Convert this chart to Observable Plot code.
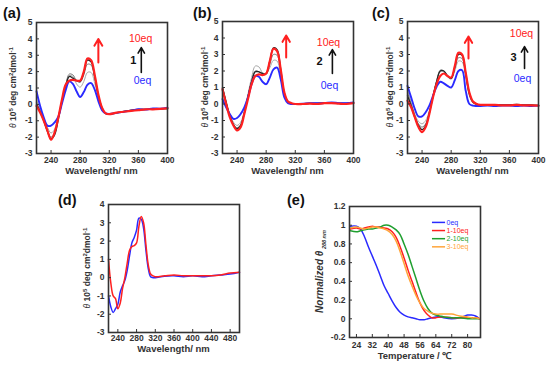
<!DOCTYPE html>
<html>
<head>
<meta charset="utf-8">
<script src="https://cdn.jsdelivr.net/npm/d3@7"></script>
<script src="https://cdn.jsdelivr.net/npm/@observablehq/plot@0.6"></script>
<style>
html, body { margin: 0; padding: 0; background: #fff; overflow: hidden; }
#chart { position: relative; width: 550px; height: 366px; }
#chart svg { position: absolute; left: 0; top: 0; }
</style>
</head>
<body>
<div id="chart"></div>
<script>
// ---------- Panels (a)-(c): CD spectra, wavelength grid (nm) ----------
const wlABC = [220,225,230,235,240,245,250,255,260,265,270,275,280,285,290,295,300,305,310,315,320,330,340,350,360,370,380,390,400];

const a_0eq  = [0.8,-0.1,-0.8,-1.3,-1.3,-1.1,-0.75,0.05,0.85,1.4,1.25,0.8,0.45,0.75,1.2,1.3,0.9,0.2,-0.35,-0.55,-0.58,-0.52,-0.45,-0.38,-0.3,-0.32,-0.25,-0.26,-0.2];
const a_mid1 = [0.3,-0.3,-0.9,-1.4,-1.75,-1.5,-0.7,0.3,1.2,1.75,1.7,1.25,1.05,1.4,1.95,1.95,1.3,0.4,-0.3,-0.55,-0.6,-0.5,-0.42,-0.35,-0.3,-0.3,-0.28,-0.25,-0.25];
const a_mid2 = [0.1,-0.4,-1.0,-1.6,-2.0,-1.75,-0.85,0.2,1.15,1.85,1.8,1.45,1.35,1.8,2.45,2.4,1.6,0.5,-0.25,-0.55,-0.6,-0.5,-0.42,-0.35,-0.3,-0.3,-0.28,-0.28,-0.25];
const a_mid3 = [0.0,-0.45,-1.0,-1.65,-2.1,-1.85,-0.9,0.2,1.1,1.7,1.6,1.45,1.4,1.95,2.7,2.6,1.7,0.55,-0.2,-0.55,-0.6,-0.52,-0.44,-0.36,-0.32,-0.3,-0.3,-0.27,-0.26];
const a_10eq = [-0.1,-0.5,-1.0,-1.6,-2.15,-1.7,-0.8,0.3,1.2,1.45,1.5,1.45,1.45,2.0,2.8,2.7,1.8,0.6,-0.2,-0.55,-0.6,-0.5,-0.45,-0.4,-0.35,-0.3,-0.3,-0.28,-0.25];

const b_0eq  = [0.3,-0.2,-0.6,-0.9,-0.85,-0.6,-0.2,0.4,1.2,1.7,1.65,1.35,1.2,1.6,2.1,2.2,1.5,0.4,0.05,0.0,0.0,0.02,0.05,0.05,0.05,0.1,0.05,0.05,0.1];
const b_mid1 = [1.0,0.2,-0.6,-1.1,-1.3,-1.1,-0.4,0.6,1.6,2.3,2.25,1.9,1.85,2.2,2.65,2.6,1.7,0.45,0.08,0.0,0.0,0.02,0.05,0.05,0.05,0.08,0.05,0.05,0.08];
const b_mid2 = [1.0,0.1,-0.7,-1.2,-1.45,-1.25,-0.5,0.5,1.4,2.0,1.95,1.8,1.8,2.4,3.0,2.95,1.9,0.55,0.1,0.02,0.0,0.02,0.04,0.05,0.06,0.08,0.05,0.04,0.07];
const b_mid3 = [1.0,0.1,-0.7,-1.25,-1.5,-1.3,-0.55,0.45,1.35,1.95,1.95,1.85,1.85,2.6,3.4,3.3,2.1,0.65,0.12,0.03,0.0,0.02,0.04,0.04,0.06,0.07,0.04,0.03,0.06];
const b_10eq = [0.9,0.0,-0.8,-1.3,-1.6,-1.4,-0.6,0.3,1.2,1.7,1.8,1.75,1.85,2.6,3.35,3.2,2.1,0.7,0.15,0.05,0.0,0.0,0.02,0.0,0.05,0.05,0.02,0.0,0.05];

const c_0eq  = [1.1,0.4,-0.3,-0.75,-0.75,-0.5,-0.1,0.5,1.05,1.35,1.25,1.1,1.0,1.45,2.0,2.05,0.8,0.0,-0.1,-0.12,-0.12,-0.1,-0.12,-0.1,-0.1,-0.12,-0.1,-0.12,-0.1];
const c_mid1 = [0.9,0.1,-0.6,-1.05,-1.2,-1.0,-0.4,0.5,1.4,1.95,1.95,1.65,1.5,2.0,2.6,2.55,1.6,0.5,0.05,-0.05,-0.05,-0.05,-0.05,-0.05,-0.05,-0.05,-0.08,-0.08,-0.1];
const c_mid2 = [0.7,0.0,-0.7,-1.2,-1.4,-1.2,-0.5,0.45,1.4,2.05,2.0,1.7,1.55,2.15,2.8,2.75,1.75,0.55,0.1,-0.02,-0.05,-0.05,-0.04,-0.05,-0.06,-0.05,-0.07,-0.08,-0.09];
const c_mid3 = [0.5,-0.1,-0.8,-1.3,-1.55,-1.3,-0.55,0.45,1.35,2.0,2.0,1.7,1.55,2.25,3.0,2.95,1.85,0.65,0.12,0.0,-0.05,-0.05,-0.05,-0.05,-0.05,-0.02,-0.05,-0.05,-0.08];
const c_10eq = [0.2,-0.2,-0.8,-1.4,-1.7,-1.4,-0.6,0.4,1.2,1.7,1.85,1.7,1.6,2.3,3.1,3.0,1.9,0.7,0.15,0.0,-0.05,-0.05,-0.05,-0.08,-0.08,-0.05,-0.08,-0.08,-0.1];

// ---------- Panel (d) ----------
const wlD = [220,225,230,235,240,245,250,255,260,265,270,275,280,285,290,295,300,305,310,315,320,340,360,380,400,420,440,460,480,500];
const d_blue = [-1.0,-1.6,-1.9,-1.7,-1.45,-0.8,-0.45,-0.15,0.4,1.2,1.9,2.2,2.6,3.25,3.2,2.7,1.5,0.5,0.05,0.0,0.0,0.08,0.1,0.05,0.1,0.05,0.1,0.15,0.2,0.3];
const d_red  = [1.0,-0.3,-1.0,-1.15,-1.7,-1.4,-0.6,0.0,0.8,1.5,1.7,1.75,1.9,2.8,3.35,3.0,1.8,0.7,0.2,0.1,0.05,0.1,0.15,0.1,0.1,0.1,0.1,0.15,0.25,0.3];

// ---------- Panel (e): melting curves ----------
const tempE = [21,24,26,28,30,32,34,36,38,40,42,44,46,48,50,52,54,56,58,60,62,64,66,68,72,76,80,82,84,86];
const e_0eq  = [0.99,0.99,0.96,0.88,0.77,0.67,0.57,0.46,0.35,0.27,0.19,0.12,0.07,0.04,0.02,0.01,0.0,-0.01,-0.01,0.0,0.01,0.02,0.02,0.01,0.0,0.01,0.04,0.04,0.03,0.0];
const e_1eq  = [0.96,0.97,0.96,0.97,0.98,0.99,0.98,0.98,0.97,0.96,0.93,0.87,0.77,0.65,0.52,0.4,0.28,0.17,0.09,0.04,0.01,0.01,0.02,0.02,0.01,0.01,0.01,0.01,0.01,0.0];
const e_2eq  = [0.94,0.93,0.94,0.95,0.96,0.96,0.97,0.98,1.0,1.0,0.98,0.95,0.9,0.8,0.69,0.56,0.43,0.3,0.19,0.11,0.06,0.04,0.03,0.02,0.01,0.01,0.0,0.0,0.0,0.0];
const e_3eq  = [0.97,0.98,0.97,0.96,0.97,0.98,0.98,0.97,0.96,0.94,0.9,0.83,0.72,0.59,0.46,0.35,0.25,0.17,0.11,0.08,0.06,0.05,0.05,0.05,0.05,0.03,0.02,0.01,0.01,0.0];
const legendE = ["0eq", "1-10eq", "2-10eq", "3-10eq"];

// ---------- Ticks / labels ----------
const ticksWlABC = [240,280,320,360,400];
const ticksWlD = [240,280,320,360,400,440,480];
const ticksCD_ABC = [-3,-2,-1,0,1,2,3,4,5];
const ticksCD_D = [-3,-2,-1,0,1,2,3,4];
const ticksTemp = [24,32,40,48,56,64,72,80];
const ticksNorm = [-0.2,0,0.2,0.4,0.6,0.8,1,1.2];
const panelNames = ["(a)", "(b)", "(c)", "(d)", "(e)"];
const ligandNames = ["1", "2", "3"];

// ---------- Styling ----------
const FONT = "'Liberation Sans', Arial, Helvetica, sans-serif";
const BLUE = "#2a2aff", RED = "#ff2020", GREEN = "#1f9f2f", ORANGE = "#ffa53a";
const GRAY1 = "#a8a8a8", GRAY2 = "#7a7a7a", BLACK = "#262626", AX = "#333";

const chart = document.getElementById("chart");

function richText(svg, {x, y, rotate = 0, anchor = "middle", size = 9, weight = "bold", fill = AX, parts}) {
  const t = d3.select(svg).append("text")
    .attr("transform", `translate(${x},${y}) rotate(${rotate})`)
    .attr("text-anchor", anchor)
    .attr("fill", fill)
    .style("font-family", FONT)
    .style("font-size", size + "px")
    .style("font-weight", weight);
  let shift = 0;
  for (const p of parts) {
    const s = t.append("tspan").text(p.t);
    const target = p.shift || 0;
    if (target !== shift) { s.attr("dy", target - shift); shift = target; }
    if (p.size) s.style("font-size", p.size + "px");
    if (p.italic) s.style("font-style", "italic");
    if (p.weight) s.style("font-weight", p.weight);
  }
  return t;
}

function panel(cfg) {
  const [L, T, R, B] = cfg.frame;
  const fw = R - L, fh = B - T;
  const marks = [];
  for (const s of cfg.series) {
    marks.push(Plot.line(cfg.x.map((x, i) => ({x, y: s.values[i]})),
      {x: "x", y: "y", stroke: s.color, strokeWidth: s.width, curve: "catmull-rom"}));
  }
  marks.push(Plot.frame({stroke: AX, strokeWidth: 1.6}));
  marks.push(Plot.tickX(cfg.xTicks, {x: d => d, insetTop: fh - 3, stroke: AX, strokeWidth: 1}));
  marks.push(Plot.tickY(cfg.yTicks, {y: d => d, insetRight: fw - 3, stroke: AX, strokeWidth: 1}));
  marks.push(Plot.axisX({ticks: cfg.xTicks, tickSize: 0, tickPadding: cfg.xPad ?? 3, label: null, tickFormat: d => String(d)}));
  marks.push(Plot.axisY({ticks: cfg.yTicks, tickSize: 0, tickPadding: 4, label: null, tickFormat: d => String(d)}));
  marks.push(...(cfg.extra || []));
  const svg = Plot.plot({
    width: 550, height: 366,
    marginLeft: L, marginTop: T, marginRight: 550 - R, marginBottom: 366 - B,
    x: {domain: cfg.xDomain},
    y: {domain: cfg.yDomain},
    style: {fontFamily: FONT, fontSize: "8.5px", fontWeight: "bold", color: AX, background: "transparent", overflow: "visible"},
    marks
  });
  // axis titles
  richText(svg, {x: (L + R) / 2, y: cfg.xLabelY, size: cfg.xLabelSize || 9.5, parts: cfg.xLabel});
  richText(svg, {x: cfg.yLabelX + 3, y: (T + B) / 2, rotate: -90, size: cfg.yLabelSize || 8.5, parts: cfg.yLabel});
  // panel letter
  richText(svg, {x: cfg.letter[0], y: cfg.letter[1], anchor: "start", size: 14.5, weight: "bold", fill: "#111", parts: [{t: cfg.name}]});
  chart.appendChild(svg);
}

const cdLabel = [
  {t: "θ", italic: true, weight: "normal"}, {t: " 10"}, {t: "5", shift: -3.5, size: 6}, {t: " deg cm"},
  {t: "2", shift: -3.5, size: 6}, {t: "dmol"}, {t: "-1", shift: -3.5, size: 6}
];
const wlLabel = [{t: "Wavelength/ nm"}];

function titration(x, s0, s1, s2, s3, s10) {
  return [
    {values: s1, color: GRAY1, width: 1},
    {values: s2, color: GRAY2, width: 1},
    {values: s3, color: BLACK, width: 1.3},
    {values: s0, color: BLUE, width: 1.9},
    {values: s10, color: RED, width: 2.2}
  ];
}

function annotations(ann, ligand) {
  return [
    Plot.arrow([ann.red], {x1: d => d[0], y1: d => d[1], x2: d => d[0], y2: d => d[2], stroke: RED, strokeWidth: 2, headLength: 6}),
    Plot.arrow([ann.black], {x1: d => d[0], y1: d => d[1], x2: d => d[0], y2: d => d[2], stroke: "#111", strokeWidth: 1.6, headLength: 6}),
    Plot.text([ann.top], {x: d => d[0], y: d => d[1], text: () => "10eq", fill: RED, fontSize: 10.5, fontWeight: "normal"}),
    Plot.text([ann.bottom], {x: d => d[0], y: d => d[1], text: () => "0eq", fill: BLUE, fontSize: 10.5, fontWeight: "normal"}),
    Plot.text([ann.num], {x: d => d[0], y: d => d[1], text: () => ligand, fill: "#111", fontSize: 11, fontWeight: "bold"})
  ];
}

// (a)
panel({
  name: panelNames[0], letter: [3, 18], frame: [36, 22, 167, 153],
  x: wlABC, xDomain: [220, 400], yDomain: [-3, 5], xTicks: ticksWlABC, yTicks: ticksCD_ABC,
  series: titration(wlABC, a_0eq, a_mid1, a_mid2, a_mid3, a_10eq),
  xLabel: wlLabel, xLabelY: 174, yLabel: cdLabel, yLabelX: 13,
  extra: annotations({red: [305, 2.55, 4.0], black: [364, 1.95, 3.47], top: [363, 4.02], bottom: [365.6, 1.46], num: [353, 2.68]}, ligandNames[0])
});
// (b)
panel({
  name: panelNames[1], letter: [193, 18], frame: [222, 21, 353, 153],
  x: wlABC, xDomain: [220, 400], yDomain: [-3, 5], xTicks: ticksWlABC, yTicks: ticksCD_ABC,
  series: titration(wlABC, b_0eq, b_mid1, b_mid2, b_mid3, b_10eq),
  xLabel: wlLabel, xLabelY: 174, yLabel: cdLabel, yLabelX: 205,
  extra: annotations({red: [307.5, 2.82, 4.15], black: [371, 1.85, 3.3], top: [365.6, 3.73], bottom: [367, 1.12], num: [353.3, 2.58]}, ligandNames[1])
});
// (c)
panel({
  name: panelNames[2], letter: [372, 18], frame: [407, 21, 538, 153],
  x: wlABC, xDomain: [220, 400], yDomain: [-3, 5], xTicks: ticksWlABC, yTicks: ticksCD_ABC,
  series: titration(wlABC, c_0eq, c_mid1, c_mid2, c_mid3, c_10eq),
  xLabel: wlLabel, xLabelY: 174, yLabel: cdLabel, yLabelX: 390,
  extra: annotations({red: [303.8, 2.76, 4.09], black: [380.8, 2.15, 3.48], top: [376.6, 4.27], bottom: [378, 1.55], num: [365.6, 2.82]}, ligandNames[2])
});
// (d)
panel({
  name: panelNames[3], letter: [58, 205], frame: [108, 204, 239, 332],
  x: wlD, xDomain: [220, 500], yDomain: [-3, 4], xTicks: ticksWlD, yTicks: ticksCD_D, xPad: 2,
  series: [{values: d_blue, color: BLUE, width: 1.5}, {values: d_red, color: RED, width: 1.5}],
  xLabel: wlLabel, xLabelY: 351.5, yLabel: cdLabel, yLabelX: 87
});
// (e)
const eColors = [BLUE, RED, GREEN, ORANGE];
const eSeries = [e_0eq, e_1eq, e_2eq, e_3eq];
const legendRows = legendE.map((label, i) => ({label, color: eColors[i], y: 1.03 - i * 0.087}));
panel({
  name: panelNames[4], letter: [287, 205], frame: [349, 206, 480, 337],
  x: tempE, xDomain: [20.5, 86.5], yDomain: [-0.2, 1.2], xTicks: ticksTemp, yTicks: ticksNorm, xPad: 4,
  series: eSeries.map((v, i) => ({values: v, color: eColors[i], width: 1.5})),
  xLabel: [{t: "Temperature / ℃"}], xLabelY: 359, xLabelSize: 9.5,
  yLabel: [{t: "Normalized θ", italic: true}, {t: " 288 nm", shift: 3, size: 5.5, italic: true}], yLabelX: 320, yLabelSize: 10,
  extra: legendRows.flatMap(r => [
    Plot.ruleY([r], {y: "y", x1: 62.3, x2: 68.9, stroke: r.color, strokeWidth: 1.5}),
    Plot.text([r], {y: "y", x: 69.4, text: "label", fill: r.color, textAnchor: "start", fontSize: 7, fontWeight: "normal"})
  ])
});
</script>
</body>
</html>
